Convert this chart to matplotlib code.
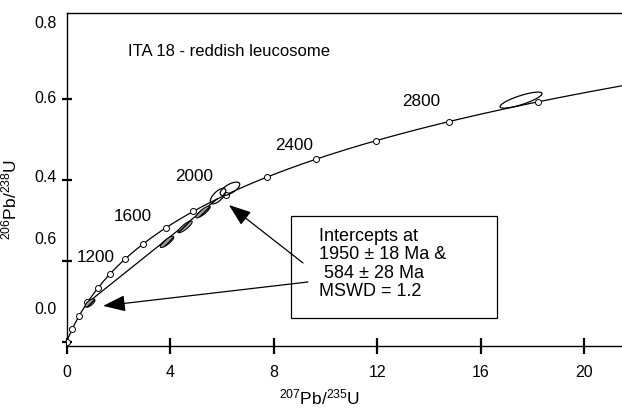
"""U-Pb concordia diagram, ITA 18 reddish leucosome."""
import numpy as np, matplotlib
matplotlib.use('Agg')
import matplotlib.pyplot as plt
from matplotlib.patches import Rectangle

plt.rcParams['font.family'] = ['Liberation Sans', 'DejaVu Sans']
plt.rcParams['mathtext.fontset'] = 'custom'
plt.rcParams['mathtext.rm'] = 'Liberation Sans'
plt.rcParams['mathtext.it'] = 'Liberation Sans:italic'

# --- data ---
L238, L235 = 1.55125e-10, 9.8485e-10       # decay constants (1/yr)
marker_ages = [0, 200, 400, 600, 800, 1000, 1200, 1400, 1600, 1800,
               2000, 2200, 2400, 2600, 2800, 3000]   # Ma
label_ages = [1200, 1600, 2000, 2400, 2800]
label_x = [1.14, 2.57, 4.92, 8.78, 13.69]
label_y = [0.209, 0.309, 0.409, 0.484, 0.593]
upper_int, lower_int = 1950, 584              # Ma

# analyses: 207Pb/235U, 206Pb/238U, err x, err y, rho
ell_x = [0.907, 3.88, 4.575, 5.27, 5.85, 6.31, 17.55]
ell_y = [0.096, 0.247, 0.284, 0.321, 0.360, 0.378, 0.597]
ell_sx = [0.191, 0.263, 0.278, 0.278, 0.299, 0.378, 0.810]
ell_sy = [0.0104, 0.0140, 0.0147, 0.0147, 0.0191, 0.0166, 0.0198]
ell_rho = [0.695, 0.832, 0.850, 0.850, 0.663, 0.661, 0.809]
ell_filled = [True, True, True, True, False, False, False]

ytick_text = ['0.8', '0.6', '0.4', '0.6', '0.0']
ytick_text_y = [0.785, 0.600, 0.405, 0.252, 0.079]
xticks = [0, 4, 8, 12, 16, 20]


def conc(t_ma):
    t = np.asarray(t_ma, dtype=float) * 1e6
    return np.exp(L235 * t) - 1, np.exp(L238 * t) - 1


fig = plt.figure(figsize=(6.22, 4.08), dpi=100)
ax = fig.add_axes([0.107, 0.152, 0.893, 0.816])

# concordia curve
tt = np.linspace(0, 3200, 600)
cx, cy = conc(tt)
ax.plot(cx, cy, color='black', lw=0.9, zorder=3)
mx, my = conc(marker_ages)
ax.plot(mx, my, 'o', ms=4.3, mfc='white', mec='black', mew=0.7, zorder=4)

# discordia
dx, dy = conc([lower_int, upper_int])
ax.plot(dx, dy, color='black', lw=0.9, zorder=3)

# error ellipses
th = np.linspace(0, 2 * np.pi, 120)
for x, y, sx, sy, r, filled in zip(ell_x, ell_y, ell_sx, ell_sy, ell_rho, ell_filled):
    ex = x + sx * np.cos(th)
    ey = y + sy * (r * np.cos(th) + np.sqrt(1 - r**2) * np.sin(th))
    if filled:
        ax.fill(ex, ey, facecolor='#9a9a9a', edgecolor='black', lw=0.7,
                hatch='//////', zorder=5)
    else:
        ax.fill(ex, ey, facecolor='none', edgecolor='black', lw=0.9, zorder=5)

for a, lx, ly in zip(label_ages, label_x, label_y):
    ax.text(lx, ly, str(a), fontsize=12.3, ha='center', va='center')

ax.text(2.37, 0.718, 'ITA 18 - reddish leucosome', fontsize=12, va='center')

# result box + arrows
ax.add_patch(Rectangle((8.67, 0.059), 7.95, 0.252, facecolor='white',
                       edgecolor='black', lw=0.9, zorder=6))
ax.text(9.75, 0.281, 'Intercepts at\n1950 \u00b1 18 Ma &\n 584 \u00b1 28 Ma\nMSWD = 1.2',
        fontsize=13, va='top', ha='left', linespacing=1.1, zorder=7)
arrow = dict(arrowstyle='-|>,head_length=1.15,head_width=0.42', color='black',
             lw=0.9, shrinkA=0, shrinkB=0, mutation_scale=12)
ax.annotate('', xy=(6.27, 0.338), xytext=(9.13, 0.195), arrowprops=arrow, zorder=7)
ax.annotate('', xy=(1.41, 0.089), xytext=(9.32, 0.148), arrowprops=arrow, zorder=7)

# axes styling
ax.set_xlim(0, 21.45)
ax.set_ylim(-0.01, 0.812)
ax.spines['right'].set_visible(False)
for s in ax.spines.values():
    s.set_linewidth(1.0)
ax.set_xticks(xticks)
ax.set_xticklabels([str(v) for v in xticks], fontsize=11.5)
ax.tick_params(axis='x', direction='inout', length=12, width=1.6, pad=8)
ax.set_yticks([0.0, 0.2, 0.4, 0.6])
ax.tick_params(axis='y', direction='inout', length=7.5, width=1.6, labelleft=False)
for t, yv in zip(ytick_text, ytick_text_y):
    ax.text(-0.017, yv, t, transform=ax.get_yaxis_transform(), fontsize=11.5,
            ha='right', va='center')

ax.set_xlabel(r'$^{207}$Pb/$^{235}$U', fontsize=12.5)
ax.xaxis.set_label_coords(0.456, -0.125)
ax.set_ylabel(r'$^{206}$Pb/$^{238}$U', fontsize=12.5)
ax.yaxis.set_label_coords(-0.084, 0.44)

fig.savefig('out.png', dpi=100)
